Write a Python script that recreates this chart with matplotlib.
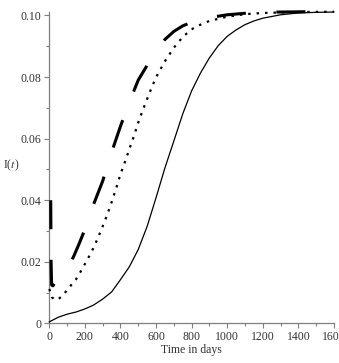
import matplotlib
matplotlib.use('Agg')
import matplotlib.pyplot as plt
from matplotlib.ticker import MultipleLocator, FuncFormatter

# solid curve
days_solid = [0, 50, 100, 150, 200, 250, 300, 350, 400, 450, 500, 550, 600, 650, 700, 750, 800, 850,
              900, 950, 1000, 1050, 1100, 1150, 1200, 1300, 1400, 1500, 1600]
i_solid = [0.0005, 0.002, 0.003, 0.0037, 0.0047, 0.006, 0.0079, 0.0102, 0.0142, 0.0184, 0.0240, 0.0315,
           0.0408, 0.0505, 0.0592, 0.0680, 0.0755, 0.0813, 0.0862, 0.0902, 0.0932, 0.0953, 0.0970,
           0.0982, 0.0991, 0.1002, 0.1008, 0.1010, 0.1011]

# dotted curve
days_dot = [0, 15, 30, 50, 75, 100, 125, 150, 175, 200, 225, 250, 275, 300, 325, 350, 375, 400, 425,
            450, 475, 500, 525, 550, 575, 600, 650, 700, 750, 800, 850, 900, 1000, 1100, 1200, 1400, 1600]
i_dot = [0.0112, 0.0085, 0.0077, 0.0078, 0.0091, 0.0108, 0.0126, 0.0143, 0.0167, 0.0193, 0.0219,
         0.0247, 0.0280, 0.0315, 0.0352, 0.0393, 0.0437, 0.0484, 0.0524, 0.0566, 0.0607, 0.0652,
         0.0692, 0.0729, 0.0765, 0.0799, 0.0851, 0.0895, 0.0930, 0.0955, 0.0970, 0.0982, 0.0996,
         0.1004, 0.1008, 0.1011, 0.1012]

# dashed curve
days_dash = [8, 9, 10, 13, 20, 50, 100, 135, 165, 200, 250, 300, 350, 400, 450, 500, 550, 600, 650,
             700, 750, 800, 900, 1000, 1100, 1200, 1300, 1600]
i_dash = [0.040, 0.030, 0.020, 0.0125, 0.0122, 0.0145, 0.0180, 0.0215, 0.0255, 0.0305, 0.0388, 0.0462,
          0.0555, 0.0640, 0.0718, 0.0790, 0.0838, 0.0880, 0.0922, 0.0948, 0.0966, 0.0978, 0.0993,
          0.1002, 0.1007, 0.1010, 0.1011, 0.1013]

x_ticks = [0, 200, 400, 600, 800, 1000, 1200, 1400, 1600]
y_ticks = [0, 0.02, 0.04, 0.06, 0.08, 0.10]

serif = 'Liberation Serif'
plt.rcParams['mathtext.fontset'] = 'stix'

fig = plt.figure(figsize=(3.39, 3.63), dpi=100)
ax = fig.add_axes([0.1454, 0.109, 0.8396, 0.857])

ax.plot(days_solid, i_solid, color='black', lw=0.9, clip_on=False, zorder=3)
ax.plot(days_dot, i_dot, color='black', lw=1.6, dashes=(1.1, 2.7), clip_on=False, zorder=3)
ax.plot(days_dash, i_dash, color='black', lw=2.2, dashes=(9.5, 10), clip_on=False, zorder=3)

ax.set_xlim(0, 1600)
ax.set_ylim(0, 0.101)
ax.set_xticks(x_ticks)
ax.set_yticks(y_ticks)
ax.xaxis.set_minor_locator(MultipleLocator(100))
ax.yaxis.set_minor_locator(MultipleLocator(0.01))
ax.yaxis.set_major_formatter(FuncFormatter(lambda v, p: '0' if v == 0 else '%.2f' % v))

for side in ['top', 'right']:
    ax.spines[side].set_visible(False)
for side in ['left', 'bottom']:
    ax.spines[side].set_color('#7f7f7f')
    ax.spines[side].set_linewidth(0.9)

ax.tick_params(which='both', direction='out', color='#7f7f7f', width=0.8, pad=2)
ax.tick_params(which='major', length=3.5)
ax.tick_params(which='minor', length=2.5)
for lab in ax.get_xticklabels() + ax.get_yticklabels():
    lab.set_fontfamily(serif)
    lab.set_fontsize(8.5)
    lab.set_color('#333333')

ax.set_xlabel('Time in days', fontfamily=serif, fontsize=8.5, color='#333333', labelpad=1)
fig.text(0.008, 0.545, r'I($\mathit{t}$)', fontfamily=serif, fontsize=8.5, color='#333333',
         ha='left', va='center')

fig.savefig('out.png', dpi=100)
